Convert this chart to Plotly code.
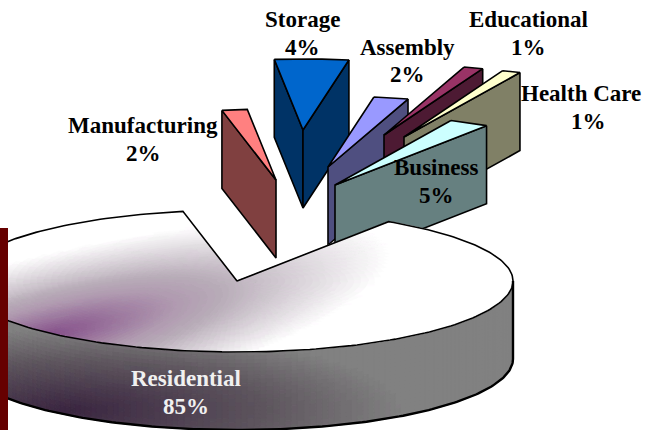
import numpy as np
import plotly.graph_objects as go

# ---- data (clockwise from the left edge of the gap) ----
labels = ["Manufacturing", "Storage", "Assembly", "Educational", "Health Care", "Business", "Residential"]
values = [2, 4, 2, 1, 1, 5, 85]

# ---- styling / camera ----
top_colors = ["#ff8080", "#0066cc", "#9999ff", "#993366", "#ffffcc", "#ccffff"]
side_colors = ["#804040", "#003366", "#4f4f80", "#4d1a33", "#808066", "#668080"]
sweep_view = [0.74, 1.08, 1.01, 1.14, 1.08, 0.47, 1.0307]  # 3-D view foreshortening of each sweep
pull = [(39, -101), (66, -151), (91, -114), (147, -146), (167, -144), (98, -96), (0, 0)]
label_pos = [(143, 143, 125, 153), (302, 302, 19, 47), (407, 407, 47, 74), (528, 528, 19, 47),
             (581, 588, 93, 121), (436, 436, 167, 195), (186, 186, 378, 406)]
CX, CY, A, B, DEPTH = 237, 281, 276, 71, 78
START_DEG = 101.3
LW = 1.6

fig = go.Figure()


def project(t_deg, r=1.0, z=0.0, off=(0, 0)):
    t = np.radians(t_deg)
    return CX + off[0] + A * r * np.cos(t), CY + off[1] - B * r * np.sin(t) + z


def poly(xs, ys, fill, line="black", width=LW):
    fig.add_trace(go.Scatter(x=list(xs), y=list(ys), mode="lines", fill="toself", fillcolor=fill,
                             line=dict(color=line, width=width), hoverinfo="skip", showlegend=False))


# slice boundaries from the values
bounds = [START_DEG]
for v, k in zip(values, sweep_view):
    bounds.append(bounds[-1] - v * 3.6 * k)

# exploded small slices
for i in range(len(values) - 1):
    t0, t1 = bounds[i], bounds[i + 1]
    off = pull[i]
    ts = np.linspace(t0, t1, 12)
    rx, ry = project(ts, off=off)
    ax, ay = CX + off[0], CY + off[1]
    if rx[0] < ax:   # left cut face visible
        poly([rx[0], ax, ax, rx[0], rx[0]], [ry[0], ay, ay + DEPTH, ry[0] + DEPTH, ry[0]], side_colors[i])
    if rx[-1] > ax:  # right cut face visible
        poly([rx[-1], ax, ax, rx[-1], rx[-1]], [ry[-1], ay, ay + DEPTH, ry[-1] + DEPTH, ry[-1]], side_colors[i])
    poly(list(rx) + [ax, rx[0]], list(ry) + [ay, ry[0]], top_colors[i])


def ramp(d, stops):
    pos = [s[0] for s in stops]
    return [float(np.interp(d, pos, [s[1][c] for s in stops])) for c in range(3)]


TOP_RAMP = [(0, (0x85, 0x50, 0x8a)), (0.36, (0xb0, 0x9a, 0xb0)), (0.5, (0xb8, 0xac, 0xb8)),
            (0.75, (0xdc, 0xd6, 0xdc)), (1.0, (255, 255, 255))]
SIDE_RAMP = [(0, (0x3a, 0x25, 0x40)), (0.6, (0x5e, 0x56, 0x5e)), (1.0, (0x80, 0x80, 0x80))]


def top_color(x, y):
    px, py = x - 50, y - 335
    s = px * 0.97 - py * 0.24
    n = px * 0.24 + py * 0.97
    return ramp(np.hypot(s / 350, n / 80), TOP_RAMP)


def side_color(x, y):
    return ramp(np.hypot((x - 70) / 330, (y - 410) / 80), SIDE_RAMP)


buckets = {}


def add_cell(xs, ys, rgb):
    key = tuple(int(round(c / 3) * 3) for c in rgb)
    key = tuple(min(c, 255) for c in key)
    bx, by = buckets.setdefault(key, ([], []))
    bx.extend(xs + [xs[0], None])
    by.extend(ys + [ys[0], None])


# Residential wedge, tessellated for the gradient
t0, t1 = bounds[-2], bounds[-1]
n_t = 240
ts = np.linspace(t0, t1, n_t + 1)
# wall: only the front half of the rim
zs = np.linspace(0, DEPTH, 21)
for a, b in zip(ts[:-1], ts[1:]):
    if np.sin(np.radians((a + b) / 2)) > 0:
        continue
    x0, y0 = project(a)
    x1, y1 = project(b)
    for z0, z1 in zip(zs[:-1], zs[1:]):
        add_cell([x0, x1, x1, x0], [y0 + z0, y1 + z0, y1 + z1, y0 + z1],
                 side_color((x0 + x1) / 2, (y0 + y1) / 2 + (z0 + z1) / 2))
# top face
rs = np.linspace(0, 1, 41)
for a, b in zip(ts[:-1], ts[1:]):
    for r0, r1 in zip(rs[:-1], rs[1:]):
        x0, y0 = project(a, r0)
        x1, y1 = project(b, r0)
        x2, y2 = project(b, r1)
        x3, y3 = project(a, r1)
        add_cell([x0, x1, x2, x3], [y0, y1, y2, y3], top_color((x0 + x2) / 2, (y0 + y2) / 2))

for key, (bx, by) in buckets.items():
    c = f"rgb({key[0]},{key[1]},{key[2]})"
    fig.add_trace(go.Scatter(x=bx, y=by, mode="lines", fill="toself", fillcolor=c,
                             line=dict(color=c, width=1), hoverinfo="skip", showlegend=False))

# Residential outlines
rx, ry = project(ts)
fig.add_trace(go.Scatter(x=[CX] + list(rx) + [CX], y=[CY] + list(ry) + [CY], mode="lines",
                         line=dict(color="black", width=LW), hoverinfo="skip", showlegend=False))
front = np.linspace(180, 360, 181)
bx, by = project(front, z=DEPTH)
ex, ey = project(360.0)
fig.add_trace(go.Scatter(x=list(bx) + [ex, ex], y=list(by) + [ey + DEPTH, ey], mode="lines",
                         line=dict(color="black", width=LW + 0.8), hoverinfo="skip", showlegend=False))

# labels
for name, v, (x1, x2, y1, y2), col in zip(labels, values, label_pos, ["black"] * 6 + ["#f0f0f0"]):
    for txt, lx, y in ((name, x1, y1), (f"{v}%", x2, y2)):
        fig.add_annotation(x=lx, y=y, text=f"<b>{txt}</b>", showarrow=False, xanchor="center", yanchor="middle",
                           font=dict(family="Liberation Serif", size=23, color=col))

fig.update_layout(
    width=652, height=430, margin=dict(l=0, r=0, t=0, b=0), paper_bgcolor="white", plot_bgcolor="white",
    xaxis=dict(range=[0, 652], visible=False, fixedrange=True),
    yaxis=dict(range=[430, 0], visible=False, fixedrange=True),
    showlegend=False,
    shapes=[dict(type="rect", xref="paper", yref="y", x0=0, x1=8 / 652, y0=228, y1=430,
                 fillcolor="#660000", line=dict(width=0), layer="above")],
)
fig.write_html("out.html", config=dict(displayModeBar=False),
               post_script="document.body.style.margin='0';document.documentElement.style.overflow='hidden';")
